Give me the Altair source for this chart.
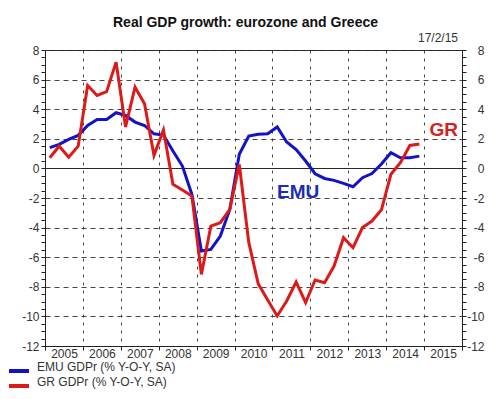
import altair as alt
import pandas as pd

# ---- data ----
quarters = [f"{y}Q{q}" for y in range(2005, 2015) for q in range(1, 5)]
emu = [1.4, 1.62, 1.96, 2.23, 2.9, 3.3, 3.3, 3.76, 3.58, 3.13, 2.9, 2.34, 2.25,
       1.17, 0.16, -1.76, -5.58, -5.47, -4.57, -2.77, 0.95, 2.18, 2.3, 2.34,
       2.8, 1.78, 1.28, 0.5, -0.36, -0.68, -0.81, -1.01, -1.24, -0.63, -0.35,
       0.3, 1.06, 0.72, 0.72, 0.83]
gr = [0.72, 1.5, 0.76, 1.5, 5.6, 4.93, 5.18, 7.18, 2.8, 5.49, 4.37, 0.88, 2.6,
      -1.08, -1.46, -1.87, -7.16, -3.9, -3.67, -2.77, 0.27, -5.0, -7.8, -8.9,
      -9.97, -8.96, -7.68, -9.07, -7.54, -7.72, -6.6, -4.68, -5.36, -4.0,
      -3.56, -2.8, -0.4, 0.38, 1.55, 1.65]
series_names = ["EMU GDPr (% Y-O-Y, SA)", "GR GDPr (% Y-O-Y, SA)"]
series_colors = ["#1212c8", "#dd1a1a"]
year_ticks = list(range(2005, 2017))
y_ticks = [v / 2 for v in range(-24, 17)]
label_text = ["EMU", "GR"]
label_t = [2011.68, 2015.52]
label_v = [-2.03, 2.16]
label_colors = ["#1c2db0", "#d42222"]
title_text = "Real GDP growth: eurozone and Greece"
date_text = "17/2/15"


def qpos(s):
    return int(s[:4]) + (int(s[5]) - 0.5) / 4


rows = []
for name, vals in zip(series_names, [emu, gr]):
    for qs, v in zip(quarters, vals):
        rows.append({"t": qpos(qs), "value": v, "series": name})
df = pd.DataFrame(rows)

FONT = "Liberation Sans"
W, H = 417, 296

x_enc = alt.X(
    "t:Q",
    scale=alt.Scale(domain=[2005, 2016], nice=False, zero=False),
    axis=alt.Axis(
        values=year_ticks, title=None,
        labelExpr="datum.value < 2016 ? '' + datum.value : ''",
        labelOffset=19, labelFlush=False, labelOverlap=False,
        labelFont=FONT, labelFontSize=12, labelColor="#333",
        tickSize=4, tickColor="#222", labelPadding=-2,
        domainColor="#222",
        grid=True, gridDash=[3, 5], gridColor="#333", gridOpacity=0.9,
    ),
)

y_scale = alt.Scale(domain=[-12, 8], nice=False, zero=False)

left_axis = alt.Axis(
    values=y_ticks, orient="left", title=None,
    labelExpr="datum.value % 2 == 0 ? '' + datum.value : ''",
    labelOverlap=False, labelFlush=False,
    labelFont=FONT, labelFontSize=12, labelColor="#333",
    tickSize=4, tickColor="#222", labelPadding=2, domainColor="#222",
    grid=True,
    gridOpacity={"condition": {"test": "datum.value % 2 == 0", "value": 0.9}, "value": 0},
    gridDash={"condition": {"test": "datum.value == 0", "value": []}, "value": [5, 4]},
    gridColor={"condition": {"test": "datum.value == 0", "value": "#111"}, "value": "#333"},
)

right_axis = alt.Axis(
    values=y_ticks, orient="right", title=None,
    labelExpr="datum.value % 2 == 0 ? '' + datum.value : ''",
    labelOverlap=False, labelFlush=False, labelAlign="right",
    labelFont=FONT, labelFontSize=12, labelColor="#333",
    tickSize=4, tickColor="#222", labelPadding=18, domainColor="#222",
    grid=False,
)

lines = alt.Chart(df).mark_line(strokeWidth=3).encode(
    x=x_enc,
    y=alt.Y("value:Q", scale=y_scale, axis=left_axis),
    color=alt.Color(
        "series:N",
        scale=alt.Scale(domain=series_names, range=series_colors),
        legend=alt.Legend(
            title=None, orient="none", legendX=-33, legendY=314,
            symbolType="M-2,0L2,0", symbolSize=100, symbolStrokeWidth=4,
            labelFont=FONT, labelFontSize=12, labelColor="#333",
            labelBaseline="alphabetic", labelOffset=11, rowPadding=-5,
            padding=0,
        ),
    ),
)

ann_df = pd.DataFrame({"t": label_t, "v": label_v, "text": label_text})

gr_label = alt.Chart(ann_df[ann_df.text == "GR"]).mark_text(
    font=FONT, fontSize=19, fontWeight="bold", color=label_colors[1],
    align="center", baseline="alphabetic",
).encode(
    x=x_enc,
    y=alt.Y("v:Q", scale=y_scale, axis=right_axis),
    text="text:N",
)

emu_label = alt.Chart(ann_df[ann_df.text == "EMU"]).mark_text(
    font=FONT, fontSize=19, fontWeight="bold", color=label_colors[0],
    align="center", baseline="alphabetic",
).encode(
    x=x_enc,
    y=alt.Y("v:Q", scale=y_scale, axis=None),
    text="text:N",
)

title = alt.Chart(alt.Data(values=[{}])).mark_text(
    font=FONT, fontSize=14, fontWeight="bold", color="#111",
    align="center", baseline="alphabetic",
).encode(x=alt.value(200.5), y=alt.value(-23), text=alt.value(title_text))

date = alt.Chart(alt.Data(values=[{}])).mark_text(
    font=FONT, fontSize=12, color="#333", align="right", baseline="alphabetic",
).encode(x=alt.value(413), y=alt.value(-8), text=alt.value(date_text))

chart = alt.layer(lines, gr_label, emu_label, title, date).resolve_axis(
    y="independent"
).properties(
    width=W, height=H,
    autosize=alt.AutoSizeParams(type="none"),
    padding={"left": 37, "top": 42, "right": 30, "bottom": 45},
    background="white",
).configure_view(stroke="#222", strokeWidth=1)

chart.save("out.html", embed_options={"renderer": "svg", "actions": False})
